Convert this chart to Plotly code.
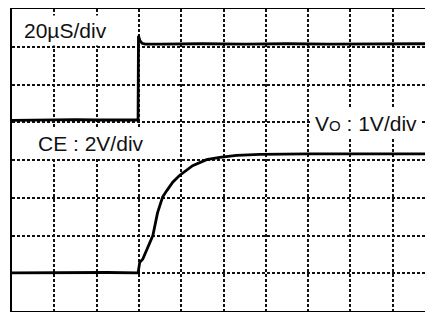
import plotly.graph_objects as go

# Time in microseconds (20 µs/div), vertical position in screen divisions
ce_t = [0, 10, 20, 30, 40, 50, 59.6, 59.8, 60.5, 61.5, 63, 70, 90, 110, 130, 150, 170, 200]
ce_v = [5.05, 5.06, 5.05, 5.07, 5.06, 5.07, 5.06, 7.29, 7.16, 7.09, 7.07, 7.07, 7.08, 7.07, 7.08, 7.07, 7.08, 7.08]

vo_t = [0, 15, 30, 45, 59.6, 60.4, 61.8, 64.0, 66.6, 68.8, 71.2, 73.2, 76.0, 79.2, 85.4, 92.0, 98.2, 106.2, 117.2, 140, 170, 200]
vo_v = [1.01, 1.02, 1.01, 1.02, 1.01, 1.29, 1.37, 1.65, 2.0, 2.6, 3.02, 3.19, 3.41, 3.59, 3.85, 4.01, 4.07, 4.12, 4.15, 4.16, 4.16, 4.16]

labels = ["20µS/div", "CE : 2V/div", "V<span style='font-size:15px'>O</span> : 1V/div"]
label_t = [25.5, 37.4, 167.4]
label_v = [7.43, 4.44, 4.98]

fig = go.Figure()
fig.add_trace(go.Scatter(x=ce_t, y=ce_v, mode="lines",
                         line=dict(color="black", width=2.8), hoverinfo="skip"))
fig.add_trace(go.Scatter(x=vo_t, y=vo_v, mode="lines",
                         line=dict(color="black", width=2.8), hoverinfo="skip"))

for txt, t, v in zip(labels, label_t, label_v):
    fig.add_annotation(x=t, y=v, xref="x", yref="y", text=txt, showarrow=False,
                       bgcolor="white", borderpad=3,
                       font=dict(family="Liberation Sans, Arial, sans-serif", size=21, color="#111"))

# the page body adds an 8px margin, so the figure is sized to fit the window
fig.update_layout(
    width=425, height=304,
    margin=dict(l=4, r=0, t=1, b=1),
    paper_bgcolor="white", plot_bgcolor="white",
    showlegend=False,
)
fig.update_xaxes(range=[0, 199.05], dtick=20, tick0=0, showticklabels=False, ticks="",
                 showgrid=True, gridcolor="#111", gridwidth=1.5, griddash="3px,2px",
                 zeroline=False, showline=True, linecolor="black", linewidth=2, mirror=True)
fig.update_yaxes(range=[0, 8], dtick=1, tick0=0, showticklabels=False, ticks="",
                 showgrid=True, gridcolor="#111", gridwidth=1.5, griddash="3px,2px",
                 zeroline=False, showline=True, linecolor="black", linewidth=2, mirror=False)

fig.write_html("out.html")
